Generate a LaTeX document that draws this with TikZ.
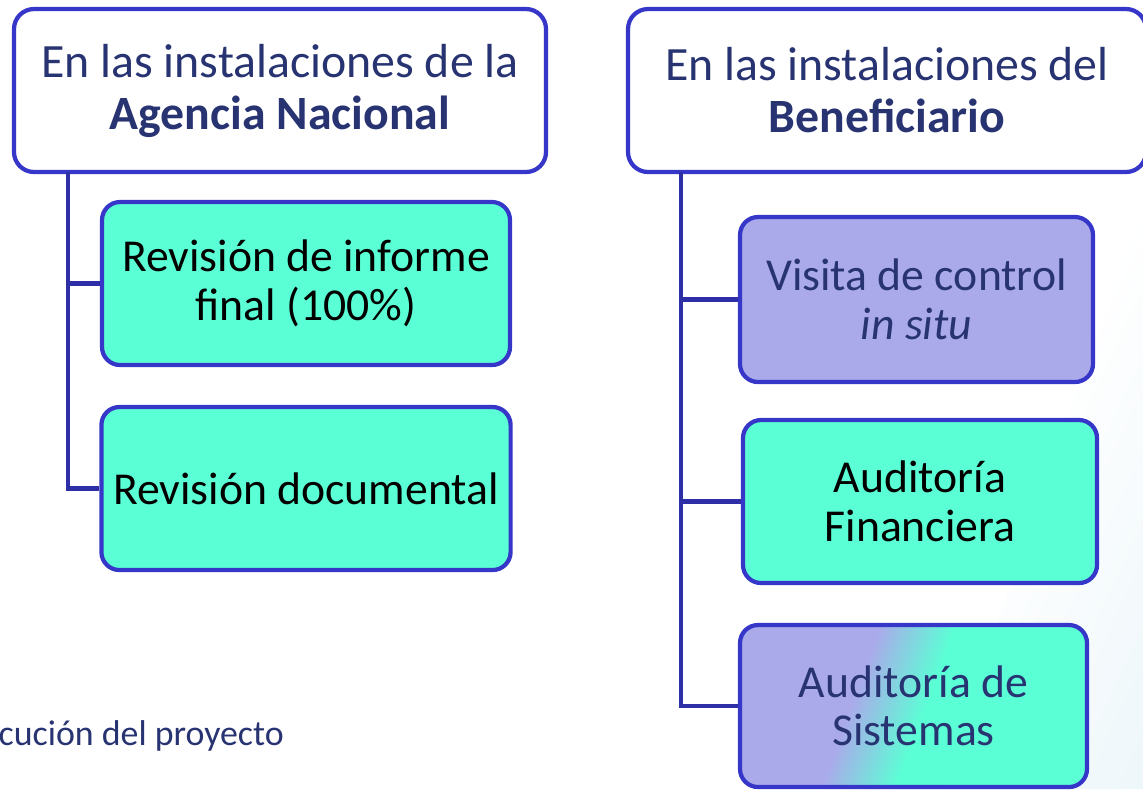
\documentclass[tikz,border=0pt]{standalone}
\usepackage{fontspec}
\setmainfont{Carlito}
\usepackage{xcolor}
\usetikzlibrary{calc}

\definecolor{navy}{HTML}{283372}
\definecolor{edge}{HTML}{3636C8}
\definecolor{trunk}{HTML}{2E2EA6}
\definecolor{mint}{HTML}{5BFFD5}
\definecolor{lilac}{HTML}{AAAAEA}
\definecolor{haze}{HTML}{E6F3F8}

\pgfdeclarehorizontalshading{lilacmint}{100bp}{color(0bp)=(lilac); color(40bp)=(lilac); color(52bp)=(mint); color(100bp)=(mint)}
\pgfdeclarehorizontalshading{hazefade}{100bp}{color(0bp)=(white); color(45bp)=(white); color(100bp)=(haze)}

\begin{document}
\begin{tikzpicture}[x=0.1mm,y=-0.1mm,
    hdr/.style={draw=edge,line width=1.2pt,rounded corners=2mm,fill=white,
        minimum height=16.3mm,align=center,text=navy,font=\fontsize{13.6}{14.8}\selectfont},
    greenbox/.style={draw=edge,line width=1.2pt,rounded corners=1.8mm,fill=mint,
        minimum width=40.8mm,minimum height=16.3mm,align=center,font=\fontsize{13}{13.8}\selectfont},
    lilacbox/.style={greenbox,fill=lilac,text=navy},
    conn/.style={draw=trunk,line width=1.2pt}]
    \useasboundingbox (0,0) rectangle (1143,789);

    % faint backdrop on the right
    \shade[shading=hazefade,shading angle=-25] (940,789) -- (1143,200) -- (1143,789) -- cycle;

    % Agencia Nacional
    \node[hdr,minimum width=53.2mm] (hdrA) at (280,90.5) {En las instalaciones de la\\\textbf{Agencia Nacional}};
    \node[greenbox] (revInf) at (306,283.5) {Revisión de informe\\final (100\%)};
    \node[greenbox] (revDoc) at (306,488.5) {Revisión documental};

    \coordinate (trunkA) at (68,172);
    \draw[conn] (trunkA) |- (revInf.west);
    \draw[conn] (trunkA) |- (revDoc.west);

    % Beneficiario
    \node[hdr,minimum width=51.8mm] (hdrB) at (887,90.5) {En las instalaciones del\\\textbf{Beneficiario}};
    \node[lilacbox,minimum width=35.3mm,minimum height=16.5mm] (visita) at (916.5,299.5) {Visita de control\\\textit{in situ}};
    \node[greenbox,minimum width=35.4mm] (audFin) at (920,501.5) {Auditoría\\Financiera};
    \node[greenbox,minimum width=34.7mm,minimum height=16.2mm,text=navy,shading=lilacmint,shading angle=-20] (audSis) at (913.5,706) {Auditoría de\\Sistemas};

    \coordinate (trunkB) at (681,172);
    \draw[conn] (trunkB) |- (visita.west);
    \draw[conn] (trunkB) |- (audFin.west);
    \draw[conn] (trunkB) |- (audSis.west);

    % footer
    \node[anchor=base west,inner sep=0pt,text=navy,font=\fontsize{10.2}{12}\selectfont] (pie) at (-2,745) {cución del proyecto};
\end{tikzpicture}
\end{document}
